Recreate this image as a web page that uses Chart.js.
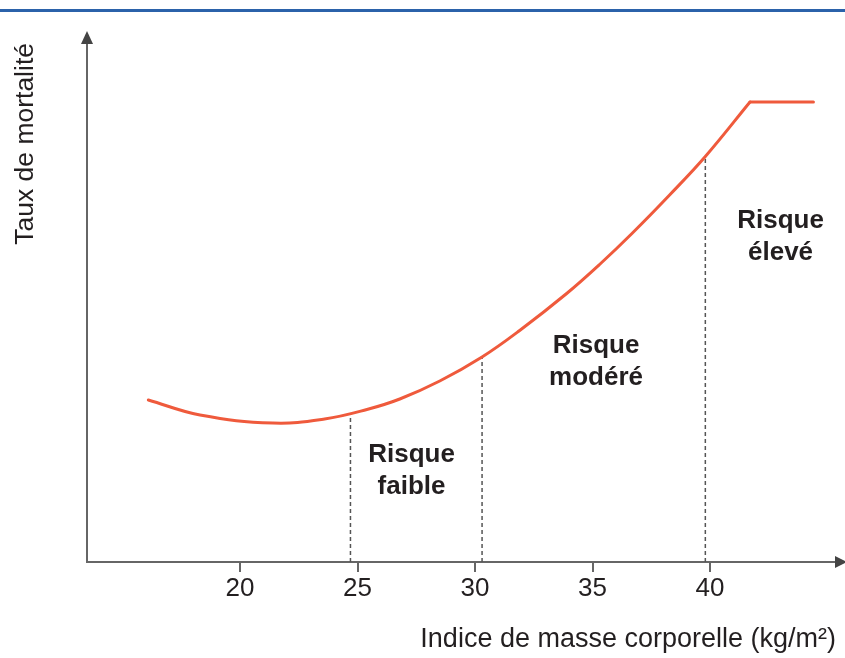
<!DOCTYPE html>
<html>
<head>
<meta charset="utf-8">
<script src="https://cdn.jsdelivr.net/npm/chart.js@4"></script>
<style>
  html, body { margin: 0; padding: 0; background: #fff; }
</style>
</head>
<body>
<canvas id="myChart" width="845" height="658"></canvas>
<script>
// IMC (kg/m2) et taux de mortalite
const bmi = [16.1, 18.3, 21.4, 23.6, 25.4, 26.8, 28.5, 30.3, 31.9, 33.9, 35.3, 36.7, 38.3, 39.8, 41.7];
const mortality = [32.4, 29.4, 27.8, 28.6, 30.5, 32.6, 36.2, 41, 46.3, 53.7, 59.5, 65.8, 73.5, 81.1, 92];
const plateauBmi = [41.7, 44.4];
const plateauValue = [92, 92];
const thresholds = [24.7, 30.3, 39.8];
const thresholdTop = [29.8, 41, 81.1];
const zoneNames = [['Risque', 'faible'], ['Risque', 'modéré'], ['Risque', 'élevé']];
const tickLabels = [20, 25, 30, 35, 40];

const FONT = '"Liberation Sans", Arial, Helvetica, sans-serif';
const TEXT = '#231f20';
const AXIS = '#666';
const CURVE = '#ef5a3c';

let toPoints = (xs, ys) => xs.map((v, i) => ({ x: v, y: ys[i] }));

// ligne bleue, fleches, etiquettes des zones
const decor = {
  id: 'decor',
  beforeDraw(chart) {
    const ctx = chart.ctx;
    ctx.save();
    ctx.fillStyle = '#fff';
    ctx.fillRect(0, 0, chart.width, chart.height);
    ctx.strokeStyle = '#2b62aa';
    ctx.lineWidth = 3;
    ctx.beginPath();
    ctx.moveTo(0, 10.5);
    ctx.lineTo(chart.width, 10.5);
    ctx.stroke();
    ctx.restore();
  },
  afterDraw(chart) {
    const { ctx, chartArea: a } = chart;
    ctx.save();
    ctx.fillStyle = '#444';
    ctx.beginPath();
    ctx.moveTo(a.left, a.top - 12);
    ctx.lineTo(a.left - 6, a.top + 1);
    ctx.lineTo(a.left + 6, a.top + 1);
    ctx.fill();
    ctx.beginPath();
    ctx.moveTo(a.right + 11, a.bottom);
    ctx.lineTo(a.right - 1, a.bottom - 6);
    ctx.lineTo(a.right - 1, a.bottom + 6);
    ctx.fill();

    const labelX = [27.3, 35.15, 43.0];
    const labelY = [20, 41.8, 66.8];
    const xs = chart.scales.x, ys = chart.scales.y;
    ctx.font = 'bold 26px ' + FONT;
    ctx.fillStyle = TEXT;
    ctx.textAlign = 'center';
    ctx.textBaseline = 'alphabetic';
    zoneNames.forEach((lines, i) => {
      const px = xs.getPixelForValue(labelX[i]);
      const py = ys.getPixelForValue(labelY[i]);
      lines.forEach((t, j) => ctx.fillText(t, px, py + j * 32));
    });
    ctx.restore();
  }
};

const datasets = [
  {
    data: toPoints(bmi, mortality),
    borderColor: CURVE, borderWidth: 3, pointRadius: 0,
    tension: 0.4, borderCapStyle: 'round', order: 0
  },
  {
    data: toPoints(plateauBmi, plateauValue),
    borderColor: CURVE, borderWidth: 3, pointRadius: 0,
    borderCapStyle: 'round', order: 0
  }
];
thresholds.forEach((t, i) => {
  datasets.push({
    data: [{ x: t, y: 0 }, { x: t, y: thresholdTop[i] }],
    borderColor: '#555', borderWidth: 1.5, borderDash: [4, 3],
    pointRadius: 0, order: 1
  });
});

new Chart(document.getElementById('myChart'), {
  type: 'line',
  data: { datasets: datasets },
  plugins: [decor],
  options: {
    responsive: false,
    devicePixelRatio: 1,
    animation: false,
    events: [],
    layout: { padding: { top: 43, right: 9, left: 0, bottom: 0 }, autoPadding: false },
    plugins: { legend: { display: false }, tooltip: { enabled: false } },
    scales: {
      x: {
        type: 'linear',
        min: 13.49,
        max: 45.36,
        afterBuildTicks: (s) => { s.ticks = tickLabels.map(v => ({ value: v })); },
        afterFit: (s) => { s.height = 96; },
        ticks: { color: TEXT, font: { size: 26, family: FONT }, padding: 1 },
        grid: { display: true, drawOnChartArea: false, drawTicks: true, tickLength: 10, color: AXIS, lineWidth: 2 },
        border: { display: true, color: AXIS, width: 2 },
        title: {
          display: true, text: 'Indice de masse corporelle (kg/m²)', align: 'end',
          color: TEXT, font: { size: 27, family: FONT }, padding: { top: 0, bottom: 2 }
        }
      },
      y: {
        type: 'linear',
        min: 0,
        max: 103.8,
        afterFit: (s) => { s.width = 87; },
        ticks: { display: false },
        grid: { display: false },
        border: { display: true, color: AXIS, width: 2 },
        title: {
          display: true, text: 'Taux de mortalité', align: 'end',
          color: TEXT, font: { size: 26.5, family: FONT }, padding: { top: 10, bottom: 0 }
        }
      }
    }
  }
});
</script>
</body>
</html>
